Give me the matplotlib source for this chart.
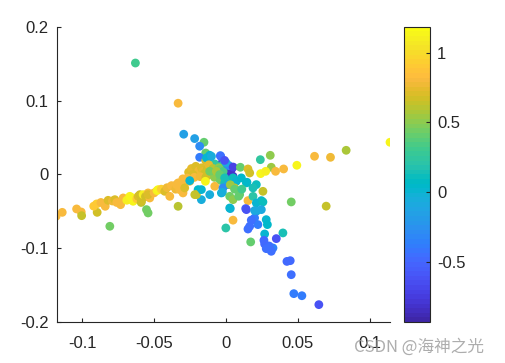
import matplotlib.pyplot as plt
from matplotlib.colors import ListedColormap

# left arm
x_left = [-0.1182, -0.1139, -0.1039, -0.1007, -0.1004, -0.0900, -0.0896, -0.0920, -0.0870, -0.0840,
          -0.0820, -0.0808, -0.0790, -0.0773, -0.0760, -0.0733, -0.0715, -0.0690, -0.0669, -0.0669,
          -0.0660, -0.0646, -0.0620, -0.0611, -0.0599, -0.0590, -0.0588, -0.0576, -0.0560, -0.0553,
          -0.0542, -0.0542, -0.0530, -0.0542, -0.0500, -0.0480, -0.0472, -0.0450, -0.0426, -0.0410,
          -0.0391, -0.0379, -0.0360, -0.0350, -0.0344, -0.0333, -0.0333, -0.0322, -0.0310, -0.0299,
          -0.0287, -0.0287, -0.0252]
y_left = [-0.0568, -0.0514, -0.0468, -0.0509, -0.0559, -0.0400, -0.0514, -0.0430, -0.0380, -0.0432,
          -0.0351, -0.0703, -0.0360, -0.0342, -0.0380, -0.0410, -0.0319, -0.0350, -0.0333, -0.0297,
          -0.0310, -0.0364, -0.0330, -0.0297, -0.0274, -0.0380, -0.0364, -0.0274, -0.0300, -0.0477,
          -0.0522, -0.0251, -0.0319, -0.0274, -0.0250, -0.0220, -0.0206, -0.0200, -0.0229, -0.0180,
          -0.0297, -0.0152, -0.0160, -0.0200, -0.0138, -0.0432, -0.0115, -0.0206, -0.0130, -0.0251,
          -0.0115, -0.0183, -0.0093]
c_left = [0.80, 0.80, 0.82, 0.80, 0.65, 0.95, 0.68, 0.90, 0.80, 0.82,
          0.72, 0.45, 0.76, 0.72, 0.82, 0.80, 0.80, 1.10, 1.10, 1.15,
          1.15, 1.12, 0.90, 0.72, 0.68, 0.62, 0.68, 1.10, 0.68, 0.45,
          0.45, 0.80, 0.80, 0.72, 0.82, 1.10, 1.15, 0.95, 0.72, 0.76,
          0.80, 0.82, 0.82, 0.76, 0.82, 0.62, 0.82, 0.80, 0.80, 0.80,
          0.80, 0.72, 0.80]

# centre cluster
x_mid = [-0.0630, -0.0333, -0.0294, -0.0218, -0.0153, -0.0183, -0.0141, -0.0183, -0.0113, -0.0039,
         -0.0025, 0.0025, 0.0049, -0.0113, -0.0037, -0.0141, -0.0078, -0.0136, -0.0101, -0.0021,
         0.0014, 0.0037, 0.0026, -0.0260, -0.0240, -0.0210, -0.0194, -0.0190, -0.0170, -0.0160,
         -0.0150, -0.0130, -0.0120, -0.0110, -0.0101, -0.0090, -0.0070, -0.0050, -0.0044, -0.0229,
         -0.0220, -0.0180, -0.0140, -0.0270, -0.0300, -0.0080, -0.0040, -0.0020, 0.0000, -0.0113,
         -0.0067, -0.0044, -0.0009, 0.0020, 0.0000, 0.0050, -0.0010, -0.0252, -0.0143, -0.0078,
         -0.0194, -0.0113, -0.0171, -0.0206, -0.0171, -0.0032, -0.0009, 0.0014, -0.0021, 0.0030,
         -0.0217, -0.0025]
y_mid = [0.1510, 0.0965, 0.0545, 0.0486, 0.0436, 0.0382, 0.0290, 0.0232, 0.0232, 0.0255,
         0.0165, 0.0066, -0.0025, 0.0260, 0.0245, 0.0187, 0.0142, 0.0224, 0.0245, 0.0133,
         0.0088, 0.0065, -0.0003, 0.0030, 0.0080, 0.0110, 0.0065, 0.0050, 0.0090, 0.0042,
         0.0010, 0.0070, 0.0130, 0.0000, 0.0042, 0.0080, 0.0020, 0.0090, 0.0065, -0.0003,
         -0.0040, -0.0030, -0.0040, -0.0050, -0.0060, -0.0040, -0.0080, 0.0040, -0.0080, 0.0042,
         0.0042, -0.0003, -0.0047, 0.0120, 0.0160, 0.0100, 0.0190, -0.0084, -0.0093, -0.0161,
         -0.0206, -0.0274, -0.0342, -0.0274, -0.0206, -0.0251, -0.0115, -0.0138, -0.0183, -0.0463,
         -0.0274, -0.0242]
c_mid = [0.30, 0.82, -0.15, -0.15, 0.40, -0.30, 0.40, -0.40, 0.00, -0.40,
         -0.75, -0.80, -0.80, 0.00, -0.45, 0.70, 0.25, 0.00, -0.05, 0.20,
         -0.60, -0.80, -0.80, 0.72, 0.74, 0.70, 0.70, 0.78, 0.70, 0.74,
         0.66, 0.68, 0.74, 0.64, 0.66, 0.62, 0.55, 0.50, 0.45, 0.72,
         0.80, 0.78, 0.66, 0.82, 0.80, 0.50, 0.45, 0.35, 0.30, 0.45,
         0.58, 0.40, 0.15, -0.30, -0.10, -0.70, -0.60, 0.00, 1.15, 0.82,
         0.05, -0.05, -0.05, 0.65, 0.00, 0.00, 0.15, -0.10, -0.30, -0.05,
         0.65, -0.05]

# right arm
x_right = [0.0100, 0.0153, 0.0165, 0.0239, 0.0308, 0.0315, 0.0241, 0.0276, 0.0345, 0.0401,
           0.0493, 0.0616, 0.0727, 0.0836, 0.1141, 0.0257, 0.0454, 0.0697, 0.0049, 0.0072,
           0.0107, 0.0142, 0.0211, 0.0188, 0.0146, 0.0060, 0.0095, 0.0026, 0.0049, 0.0153,
           0.0246, 0.0188, 0.0088, 0.0030, 0.0060, 0.0110]
y_right = [0.0097, 0.0074, 0.0020, 0.0200, 0.0259, 0.0097, 0.0011, 0.0042, 0.0042, 0.0074,
           0.0124, 0.0246, 0.0232, 0.0327, 0.0436, -0.0229, -0.0373, -0.0430, -0.0047, -0.0093,
           -0.0047, -0.0115, -0.0138, -0.0183, -0.0106, -0.0183, -0.0274, -0.0297, -0.0342, -0.0355,
           -0.0355, -0.0297, -0.0296, -0.0140, -0.0200, -0.0200]
c_right = [0.40, 0.70, 0.66, 0.25, 0.50, 0.55, 1.15, 1.10, 0.82, 0.82,
           1.15, 0.82, 0.76, 0.58, 1.15, 0.65, 0.45, 0.65, 0.10, 0.00,
           0.05, 0.10, 0.10, 0.15, 0.05, 0.65, 0.40, 0.45, 0.50, 0.82,
           0.00, 0.20, 0.40, 0.55, 0.40, 0.30]

# lower arm
x_low = [0.0049, -0.0001, 0.0026, 0.0137, 0.0142, 0.0211, 0.0257, 0.0211, 0.0246, 0.0188,
         0.0165, 0.0222, 0.0199, 0.0176, 0.0280, 0.0288, 0.0269, 0.0172, 0.0396, 0.0350,
         0.0269, 0.0280, 0.0327, 0.0315, 0.0300, 0.0424, 0.0447, 0.0454, 0.0472, 0.0528,
         0.0646, 0.0153, 0.0199, 0.0264]
y_low = [-0.0620, -0.0726, -0.0455, -0.0463, -0.0477, -0.0387, -0.0373, -0.0500, -0.0477, -0.0613,
         -0.0703, -0.0680, -0.0590, -0.0620, -0.0613, -0.0680, -0.0807, -0.0915, -0.0793, -0.0870,
         -0.0943, -0.1006, -0.0997, -0.1042, -0.0970, -0.1179, -0.1169, -0.1359, -0.1616, -0.1644,
         -0.1765, -0.0740, -0.0490, -0.0893]
c_low = [0.82, 0.20, 0.00, -0.55, -0.60, 0.00, 0.10, -0.05, -0.10, -0.45,
         -0.45, -0.40, -0.40, -0.45, 0.00, 0.05, 0.00, 0.40, 0.15, -0.60,
         -0.50, -0.45, -0.35, -0.45, -0.45, -0.50, -0.50, -0.45, -0.40, -0.40,
         -0.60, -0.45, -0.10, -0.50]

x = x_left + x_mid + x_right + x_low
y = y_left + y_mid + y_right + y_low
c = c_left + c_mid + c_right + c_low

# MATLAB parula, 64 entries
parula = ListedColormap([
    (0.2422, 0.1504, 0.6603), (0.2504, 0.1650, 0.7076), (0.2578, 0.1818, 0.7511), (0.2647, 0.1978, 0.7952),
    (0.2706, 0.2147, 0.8364), (0.2751, 0.2342, 0.8710), (0.2783, 0.2559, 0.8991), (0.2803, 0.2782, 0.9221),
    (0.2813, 0.3006, 0.9414), (0.2810, 0.3228, 0.9579), (0.2795, 0.3447, 0.9717), (0.2760, 0.3667, 0.9829),
    (0.2699, 0.3892, 0.9906), (0.2602, 0.4123, 0.9952), (0.2440, 0.4358, 0.9988), (0.2206, 0.4603, 0.9973),
    (0.1963, 0.4847, 0.9892), (0.1834, 0.5074, 0.9798), (0.1786, 0.5289, 0.9682), (0.1764, 0.5499, 0.9520),
    (0.1687, 0.5703, 0.9359), (0.1540, 0.5902, 0.9218), (0.1460, 0.6091, 0.9079), (0.1380, 0.6276, 0.8973),
    (0.1248, 0.6459, 0.8883), (0.1113, 0.6635, 0.8763), (0.0952, 0.6798, 0.8598), (0.0689, 0.6948, 0.8394),
    (0.0297, 0.7082, 0.8163), (0.0036, 0.7203, 0.7917), (0.0067, 0.7312, 0.7660), (0.0433, 0.7411, 0.7394),
    (0.0964, 0.7500, 0.7120), (0.1408, 0.7584, 0.6842), (0.1717, 0.7670, 0.6554), (0.1938, 0.7758, 0.6251),
    (0.2161, 0.7843, 0.5923), (0.2470, 0.7918, 0.5567), (0.2906, 0.7973, 0.5188), (0.3406, 0.8008, 0.4789),
    (0.3909, 0.8029, 0.4354), (0.4456, 0.8024, 0.3909), (0.5044, 0.7993, 0.3480), (0.5616, 0.7942, 0.3045),
    (0.6174, 0.7876, 0.2612), (0.6720, 0.7793, 0.2227), (0.7242, 0.7698, 0.1910), (0.7738, 0.7598, 0.1646),
    (0.8203, 0.7498, 0.1535), (0.8634, 0.7406, 0.1596), (0.9035, 0.7330, 0.1774), (0.9393, 0.7288, 0.2100),
    (0.9728, 0.7298, 0.2394), (0.9956, 0.7434, 0.2371), (0.9970, 0.7659, 0.2199), (0.9952, 0.7893, 0.2028),
    (0.9892, 0.8136, 0.1885), (0.9786, 0.8386, 0.1766), (0.9676, 0.8639, 0.1643), (0.9610, 0.8890, 0.1537),
    (0.9597, 0.9135, 0.1423), (0.9628, 0.9373, 0.1265), (0.9691, 0.9606, 0.1064), (0.9769, 0.9839, 0.0805)],
    name='parula')

plt.rcParams['font.family'] = ['Liberation Sans', 'DejaVu Sans']
fig = plt.figure(figsize=(5.05, 3.63), dpi=100)
ax = fig.add_axes([0.113, 0.113, 0.659, 0.813])
cax = fig.add_axes([0.800, 0.113, 0.0515, 0.813])

sc = ax.scatter(x, y, c=c, cmap=parula, vmin=-0.93, vmax=1.185, s=40, linewidths=0)
ax.set_xlim(-0.1175, 0.114)
ax.set_ylim(-0.2, 0.2)
ax.set_xticks([-0.1, -0.05, 0, 0.05, 0.1])
ax.set_xticklabels(['-0.1', '-0.05', '0', '0.05', '0.1'])
ax.set_yticks([-0.2, -0.1, 0, 0.1, 0.2])
ax.set_yticklabels(['-0.2', '-0.1', '0', '0.1', '0.2'])
for s in ['top', 'right']:
    ax.spines[s].set_visible(False)
for s in ['left', 'bottom']:
    ax.spines[s].set_color('#262626')
    ax.spines[s].set_linewidth(0.8)
ax.tick_params(axis='x', direction='in', length=3, pad=10, labelsize=12, colors='#262626')
ax.tick_params(axis='y', direction='in', length=3, pad=6, labelsize=12, colors='#262626')

cb = fig.colorbar(sc, cax=cax)
cb.set_ticks([-0.5, 0, 0.5, 1])
cb.set_ticklabels(['-0.5', '0', '0.5', '1'])
cb.outline.set_linewidth(0.8)
cb.outline.set_edgecolor('#262626')
cax.tick_params(direction='in', length=3, pad=5, labelsize=12, colors='#262626')

# watermark, overlaps the last x tick label as in the original
fig.text(0.70, 0.03, 'CSDN @海神之光', fontsize=12, color='#999999', alpha=0.8,
         family=['Noto Sans CJK SC', 'DejaVu Sans'])

fig.savefig('out.png', dpi=100)
